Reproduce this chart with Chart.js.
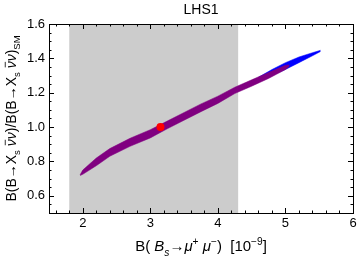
<!DOCTYPE html>
<html>
<head>
<meta charset="utf-8">
<script src="https://cdn.jsdelivr.net/npm/chart.js@4"></script>
<style>
  html, body { margin: 0; padding: 0; background: #fff; }
  #wrap { width: 360px; height: 261px; }
</style>
</head>
<body>
<div id="wrap"><canvas id="chart"></canvas></div>
<script>
(function() {
    'use strict';

    // data
    var xBand = [1.8, 4.3];                       // gray allowed region
    var purpleX     = [1.96,  2.0,   2.2,   2.4,   2.7,   3.0,   3.25,  3.5,   3.75,  4.0,   4.25,  4.5,   4.75,  5.0,   5.06];
    var purpleUpper = [0.722, 0.75,  0.82,  0.875, 0.935, 0.985, 1.035, 1.085, 1.135, 1.18,  1.232, 1.275, 1.318, 1.36,  1.362];
    var purpleLower = [0.718, 0.725, 0.775, 0.83,  0.888, 0.937, 0.99,  1.04,  1.09,  1.138, 1.195, 1.238, 1.283, 1.335, 1.355];
    var blueX       = [4.6,   4.8,   5.0,   5.2,   5.4,   5.52];
    var blueUpper   = [1.29,  1.335, 1.375, 1.408, 1.433, 1.447];
    var blueLower   = [1.265, 1.3,   1.335, 1.375, 1.415, 1.44];
    var smPoint = { x: 3.15, y: 1.0 };

    var xTicks = [2, 3, 4, 5, 6];
    var yTicks = [0.6, 0.8, 1.0, 1.2, 1.4, 1.6];
    var xMinorStep = 0.2, yMinorStep = 0.05;

    function pts(xs, ys) {
        return xs.map(function(x, i) { return { x: x, y: ys[i] }; });
    }

    var FONT = '"Liberation Sans", Arial, Helvetica, sans-serif';

    // gray band behind the data
    var bandPlugin = {
        id: 'band',
        beforeDatasetsDraw: function(chart) {
            var c = chart.ctx, a = chart.chartArea, xs = chart.scales.x;
            var x0 = xs.getPixelForValue(xBand[0]), x1 = xs.getPixelForValue(xBand[1]);
            c.save();
            c.fillStyle = '#cccccc';
            c.fillRect(x0, a.top, x1 - x0, a.bottom - a.top);
            c.restore();
        }
    };

    // frame with inward ticks on all sides
    var framePlugin = {
        id: 'frame',
        afterDraw: function(chart) {
            var c = chart.ctx, a = chart.chartArea, xs = chart.scales.x, ys = chart.scales.y;
            c.save();
            c.strokeStyle = '#000';
            c.lineWidth = 1;
            c.strokeRect(Math.round(a.left) + 0.5, Math.round(a.top) + 0.5,
                         Math.round(a.right - a.left), Math.round(a.bottom - a.top));
            c.beginPath();
            var v, p, len;
            for (v = 1.6; v < 6; v += xMinorStep) {
                p = Math.round(xs.getPixelForValue(v)) + 0.5;
                len = Math.abs(v - Math.round(v)) < 1e-6 ? 5 : 2.5;
                c.moveTo(p, a.bottom); c.lineTo(p, a.bottom - len);
                c.moveTo(p, a.top); c.lineTo(p, a.top + len);
            }
            for (v = 0.55; v < 1.6; v += yMinorStep) {
                p = Math.round(ys.getPixelForValue(v)) + 0.5;
                var r = Math.round(v * 100);
                len = (r % 20 === 0) ? 5 : 2.5;
                c.moveTo(a.left, p); c.lineTo(a.left + len, p);
                c.moveTo(a.right, p); c.lineTo(a.right - len, p);
            }
            c.stroke();
            c.restore();
        }
    };

    // rich text: runs with italic / sub / sup / bar
    function runFont(r, size) {
        var s = (r.sub || r.sup) ? size * 0.68 : size;
        return (r.it ? 'italic ' : '') + s + 'px ' + FONT;
    }
    function drawRuns(c, runs, cx, cy, size) {
        var w = 0;
        runs.forEach(function(r) { c.font = runFont(r, size); r.w = c.measureText(r.t).width; w += r.w; });
        var x = cx - w / 2;
        c.textBaseline = 'alphabetic';
        c.textAlign = 'left';
        runs.forEach(function(r) {
            c.font = runFont(r, size);
            var dy = r.sub ? size * 0.3 : (r.sup ? -size * 0.42 : 0);
            c.fillText(r.t, x, cy + dy);
            if (r.bar) {
                c.fillRect(x + 1, cy - size * 0.8, r.w - 1.5, 0.8);
            }
            x += r.w;
        });
    }

    var textPlugin = {
        id: 'texts',
        afterDraw: function(chart) {
            var c = chart.ctx, a = chart.chartArea;
            var cx = (a.left + a.right) / 2, cy = (a.top + a.bottom) / 2;
            c.save();
            c.fillStyle = '#000';
            c.font = '14px ' + FONT;
            c.textAlign = 'center';
            c.textBaseline = 'middle';
            c.fillText('LHS1', cx, 10);

            drawRuns(c, [
                { t: 'B( ' }, { t: 'B', it: true }, { t: 's', it: true, sub: true },
                { t: '\u2192' }, { t: '\u03bc', it: true }, { t: '+', sup: true },
                { t: ' ' }, { t: '\u03bc', it: true }, { t: '\u2212', sup: true },
                { t: ')  [10' }, { t: '\u2212' + '9', sup: true }, { t: ']' }
            ], cx, 251, 15);

            c.translate(16, cy);
            c.rotate(-Math.PI / 2);
            drawRuns(c, [
                { t: 'B(B\u2192X' }, { t: 's', sub: true }, { t: ' ' },
                { t: '\u03bd', it: true, bar: true }, { t: '\u03bd', it: true },
                { t: ')/B(B\u2192X' }, { t: 's', sub: true }, { t: ' ' },
                { t: '\u03bd', it: true, bar: true }, { t: '\u03bd', it: true },
                { t: ')' }, { t: 'SM', sub: true }
            ], 0, 0, 14);
            c.restore();
        }
    };

    var ctx = document.getElementById('chart');
    new Chart(ctx, {
        type: 'scatter',
        data: {
            datasets: [
                {
                    label: 'SM',
                    data: [smPoint],
                    backgroundColor: '#ff0000',
                    borderColor: '#ff0000',
                    pointRadius: 4,
                    pointBorderWidth: 0
                },
                {
                    label: 'purple upper',
                    data: pts(purpleX, purpleUpper),
                    showLine: true,
                    borderColor: '#800080',
                    borderWidth: 0.5,
                    backgroundColor: '#800080',
                    pointRadius: 0,
                    fill: '+1'
                },
                {
                    label: 'purple lower',
                    data: pts(purpleX, purpleLower),
                    showLine: true,
                    borderColor: '#800080',
                    borderWidth: 0.5,
                    pointRadius: 0,
                    fill: false
                },
                {
                    label: 'blue upper',
                    data: pts(blueX, blueUpper),
                    showLine: true,
                    borderColor: '#0000ff',
                    borderWidth: 0.5,
                    backgroundColor: '#0000ff',
                    pointRadius: 0,
                    fill: '+1'
                },
                {
                    label: 'blue lower',
                    data: pts(blueX, blueLower),
                    showLine: true,
                    borderColor: '#0000ff',
                    borderWidth: 0.5,
                    pointRadius: 0,
                    fill: false
                }
            ]
        },
        options: {
            responsive: true,
            maintainAspectRatio: false,
            animation: false,
            events: [],
            layout: { padding: { top: 24, right: 7, left: 0, bottom: 0 } },
            plugins: {
                legend: { display: false },
                tooltip: { enabled: false },
                title: { display: false }
            },
            scales: {
                x: {
                    type: 'linear',
                    min: 1.5,
                    max: 6,
                    grid: { display: false, drawTicks: false },
                    border: { display: false },
                    afterBuildTicks: function(s) { s.ticks = xTicks.map(function(v) { return { value: v }; }); },
                    afterFit: function(s) { s.height = 48; },
                    ticks: {
                        color: '#000',
                        font: { family: FONT, size: 13 },
                        padding: 3,
                        maxRotation: 0,
                        autoSkip: false,
                        callback: function(v) { return String(v); }
                    }
                },
                y: {
                    type: 'linear',
                    min: 0.5,
                    max: 1.6,
                    grid: { display: false, drawTicks: false },
                    border: { display: false },
                    afterBuildTicks: function(s) { s.ticks = yTicks.map(function(v) { return { value: v }; }); },
                    afterFit: function(s) { s.width = 49; },
                    ticks: {
                        color: '#000',
                        font: { family: FONT, size: 13 },
                        padding: 4,
                        autoSkip: false,
                        callback: function(v) { return Number(v).toFixed(1); }
                    }
                }
            }
        },
        plugins: [bandPlugin, framePlugin, textPlugin]
    });
})();
</script>
</body>
</html>
